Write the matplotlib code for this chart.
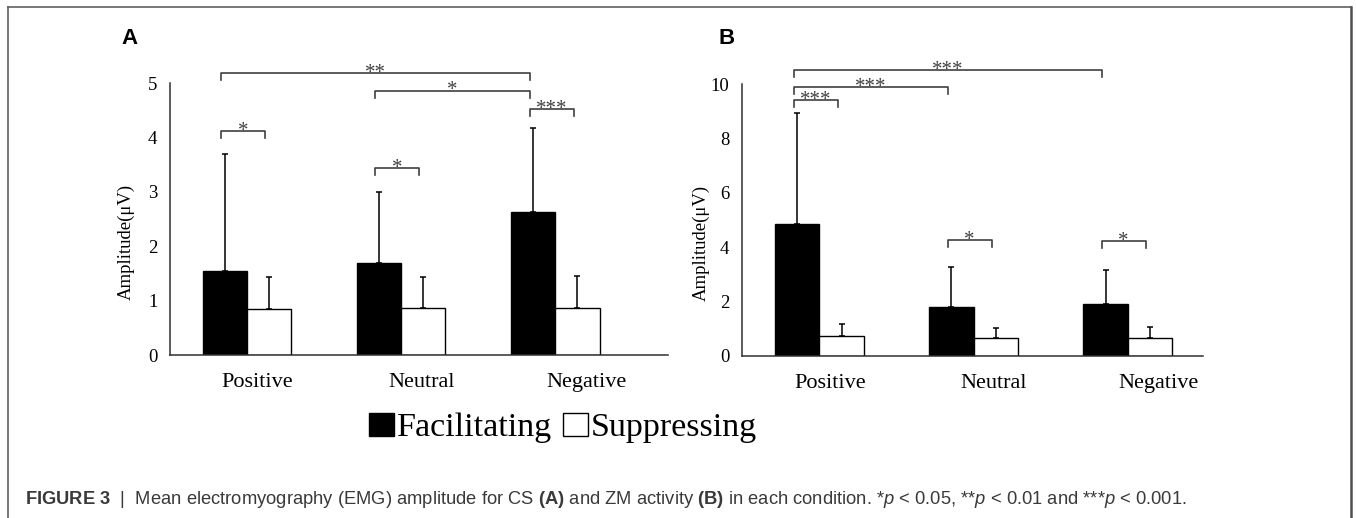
import numpy as np
import matplotlib
matplotlib.use("Agg")
import matplotlib.pyplot as plt
from matplotlib.lines import Line2D

plt.rcParams['font.family'] = ['Liberation Serif', 'DejaVu Serif']
plt.rcParams['mathtext.fontset'] = 'custom'
plt.rcParams['mathtext.rm'] = 'Liberation Sans'
plt.rcParams['mathtext.bf'] = 'Liberation Sans:bold'
plt.rcParams['mathtext.it'] = 'Liberation Sans:italic'

# ---------------- data ----------------
categories = ["Positive", "Neutral", "Negative"]
series_names = ["Facilitating", "Suppressing"]

a_fac_mean = [1.54, 1.70, 2.63]
a_fac_sd = [2.15, 1.30, 1.54]
a_sup_mean = [0.84, 0.86, 0.86]
a_sup_sd = [0.59, 0.57, 0.59]

b_fac_mean = [4.85, 1.80, 1.91]
b_fac_sd = [4.11, 1.49, 1.27]
b_sup_mean = [0.74, 0.67, 0.67]
b_sup_sd = [0.44, 0.37, 0.41]

a_yticks = [0, 1, 2, 3, 4, 5]
b_yticks = [0, 2, 4, 6, 8, 10]

# significance brackets: (cat_left, series_left, cat_right, series_right, height, label)
a_sig = [
    (0, 0, 2, 0, 5.19, "**"),
    (1, 0, 2, 0, 4.86, "*"),
    (2, 0, 2, 1, 4.52, "***"),
    (0, 0, 0, 1, 4.12, "*"),
    (1, 0, 1, 1, 3.44, "*"),
]
b_sig = [
    (0, 0, 2, 0, 10.53, "***"),
    (0, 0, 1, 0, 9.91, "***"),
    (0, 0, 0, 1, 9.42, "***"),
    (1, 0, 1, 1, 4.27, "*"),
    (2, 0, 2, 1, 4.23, "*"),
]

caption = (r"$\mathbf{FIGURE\ 3}$  |  Mean electromyography (EMG) amplitude for CS "
           r"$\mathbf{(A)}$ and ZM activity $\mathbf{(B)}$ in each condition. "
           r"*$\mathit{p}$ < 0.05, **$\mathit{p}$ < 0.01 and ***$\mathit{p}$ < 0.001.")

# ---------------- figure ----------------
W, H = 1356, 518
fig = plt.figure(figsize=(W / 100, H / 100), dpi=100)

def fx(px):
    return px / W

def fy(py):
    return 1 - py / H

axA = fig.add_axes([fx(170), fy(355), fx(668) - fx(170), fy(83) - fy(355)])
axB = fig.add_axes([fx(741.7), fy(356), fx(1203) - fx(741.7), fy(84.3) - fy(356)])

bw = 0.286
label_shift = [0.068, 0.133, 0.203]   # tick label offsets (as in the source figure)
spine_c = '#303030'
br_c = '#404040'

def draw_panel(ax, fac_m, fac_sd, sup_m, sup_sd, yticks, xlim, sig, tick_depth, label_x):
    x = np.arange(len(categories))
    xs = [x - bw / 2, x + bw / 2]
    b1 = ax.bar(xs[0], fac_m, bw, color='black', edgecolor='black', linewidth=1.0,
                label=series_names[0], zorder=2)
    b2 = ax.bar(xs[1], sup_m, bw, color='white', edgecolor='black', linewidth=1.0,
                label=series_names[1], zorder=2)
    ax.errorbar(xs[0], fac_m, yerr=[np.zeros(len(fac_sd)), fac_sd], fmt='none',
                ecolor='black', elinewidth=1.1, capsize=2.5, capthick=1.1, zorder=3)
    ax.errorbar(xs[1], sup_m, yerr=[np.zeros(len(sup_sd)), sup_sd], fmt='none',
                ecolor='black', elinewidth=1.1, capsize=2.5, capthick=1.1, zorder=3)
    ax.set_ylim(yticks[0], yticks[-1])
    ax.set_xlim(*xlim)
    ax.set_yticks(yticks)
    ax.set_xticks(x + np.array(label_shift))
    ax.set_xticklabels(categories, fontsize=16)
    ax.tick_params(axis='y', length=0, pad=9, labelsize=13.5)
    ax.tick_params(axis='x', length=0, pad=13)
    for s in ['top', 'right']:
        ax.spines[s].set_visible(False)
    for s in ['left', 'bottom']:
        ax.spines[s].set_color(spine_c)
        ax.spines[s].set_linewidth(1.1)
    ax.set_ylabel("Amplitude(\u03bcV)", fontsize=13.5)
    ax.yaxis.set_label_coords(label_x, 0.415)
    for (c1, s1, c2, s2, h, lab) in sig:
        x1 = xs[s1][c1] - 0.025
        x2 = xs[s2][c2] - 0.025
        ax.plot([x1, x1, x2, x2], [h - tick_depth, h, h, h - tick_depth],
                color=br_c, lw=1.2, clip_on=False, zorder=4)
        ax.annotate(lab, ((x1 + x2) / 2, h), xytext=(0, -3.5), textcoords='offset points',
                    ha='center', va='baseline', fontsize=15, color=br_c,
                    annotation_clip=False)
    return b1, b2

bars = draw_panel(axA, a_fac_mean, a_fac_sd, a_sup_mean, a_sup_sd, a_yticks,
                  (-0.5, 2.73), a_sig, 0.13, -0.070)
draw_panel(axB, b_fac_mean, b_fac_sd, b_sup_mean, b_sup_sd, b_yticks,
           (-0.505, 2.49), b_sig, 0.26, -0.069)

# panel letters
fig.text(fx(121.5), fy(38.7), "A", family='Liberation Sans', weight='bold',
         fontsize=16, ha='left', va='center')
fig.text(fx(718), fy(38.7), "B", family='Liberation Sans', weight='bold',
         fontsize=16, ha='left', va='center')

# legend
fig.legend(bars, series_names, loc='center', bbox_to_anchor=(fx(563), fy(428)),
           ncol=2, frameon=False, fontsize=24.5, handlelength=0.74, handleheight=0.68,
           handletextpad=0.1, columnspacing=0.3, borderpad=0, borderaxespad=0)

# caption
fig.text(fx(25), fy(504), caption, family='Liberation Sans', fontsize=13.2,
         color='#3a3a3a', ha='left', va='baseline')

# border (left, top, right)
bc = '#606060'
fig.add_artist(Line2D([fx(8), fx(8)], [fy(518), fy(7)], color=bc, lw=1.2,
                      transform=fig.transFigure))
fig.add_artist(Line2D([fx(8), fx(1351)], [fy(7), fy(7)], color=bc, lw=1.2,
                      transform=fig.transFigure))
fig.add_artist(Line2D([fx(1351), fx(1351)], [fy(7), fy(518)], color='#505050', lw=1.8,
                      transform=fig.transFigure))

fig.savefig("out.png", dpi=100)
